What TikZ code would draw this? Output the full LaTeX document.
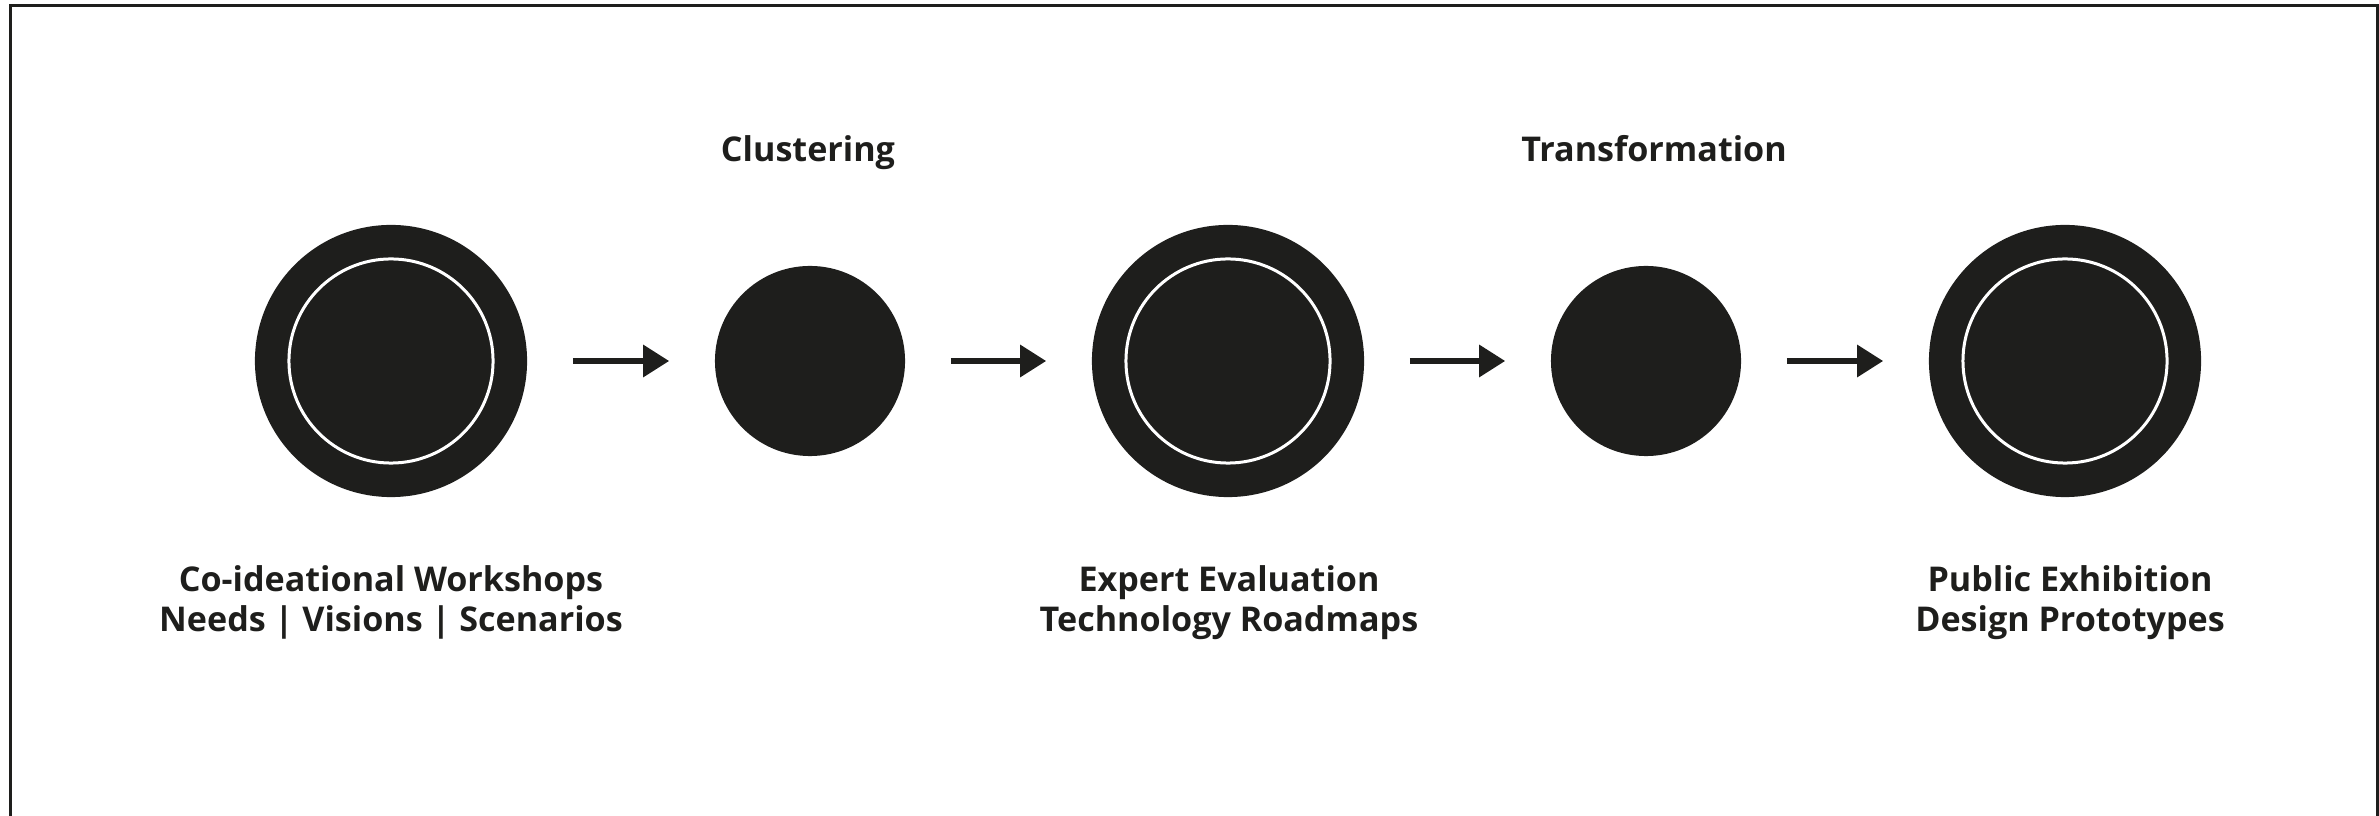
\documentclass[tikz,border=0pt]{standalone}
\usepackage{fontspec}
\setmainfont{Open Sans}
\usetikzlibrary{arrows.meta}
\definecolor{ink}{RGB}{30,30,28}

\begin{document}
\begin{tikzpicture}[x=0.01cm, y=-0.01cm,
  stage/.style={circle, fill=ink, inner sep=0pt, minimum size=2.72cm},
  ring/.style={circle, draw=white, line width=0.03cm, inner sep=0pt, minimum size=2.04cm},
  hub/.style={circle, fill=ink, inner sep=0pt, minimum size=1.9cm},
  flow/.style={ink, line width=0.06cm, -{Triangle[length=0.26cm, width=0.31cm]}, shorten <=0.45cm, shorten >=0.45cm},
  caption/.style={font=\bfseries\fontsize{9.7}{11.4}\selectfont, text=ink, align=center, inner sep=0pt}]
\useasboundingbox (0,0) rectangle (2379,816);
\draw[ink, line width=0.03cm] (10.5,816) -- (10.5,6) -- (2377,6) -- (2377,816);

\node[stage] (ws) at (391,361) {};
\node[hub] (cl) at (810,361) {};
\node[stage] (ev) at (1228,361) {};
\node[hub] (tr) at (1646,361) {};
\node[stage] (ex) at (2065,361) {};
\foreach \n in {ws,ev,ex}
	\node[ring] (\n-in) at (\n) {};

\foreach \a/\b in {ws/cl, cl/ev, ev/tr, tr/ex}
	\draw[flow] (\a) -- (\b);

\node[caption, anchor=base] (cl-text) at (808,162) {Clustering};
\node[caption, anchor=base] (tr-text) at (1654,162) {Transformation};

% anchor base sits on the second line
\node[caption, anchor=base] (ws-text) at (391,632) {Co-ideational Workshops\\Needs | Visions | Scenarios};
\node[caption, anchor=base] (ev-text) at (1229,632) {Expert Evaluation\\Technology Roadmaps};
\node[caption, anchor=base] (ex-text) at (2070,632) {Public Exhibition\\Design Prototypes};
\end{tikzpicture}
\end{document}
